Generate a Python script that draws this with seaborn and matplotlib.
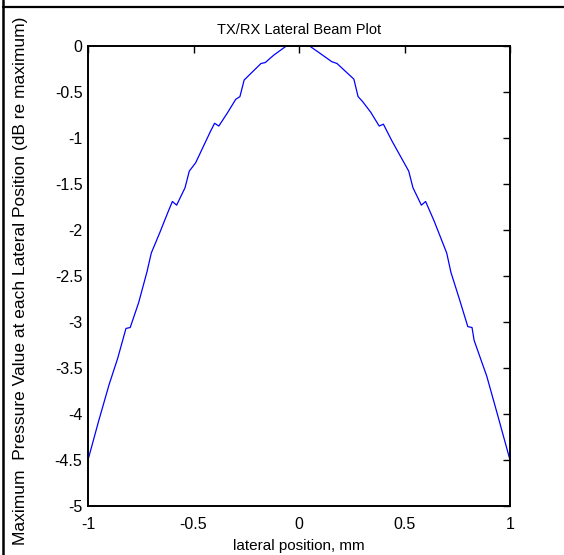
import matplotlib
matplotlib.use("Agg")
import matplotlib.pyplot as plt
import matplotlib.lines as mlines
import seaborn as sns
import pandas as pd

# Lateral beam profile (dB re maximum) across lateral position in mm
lateral_mm = [-1.00, -0.95, -0.90, -0.86, -0.82, -0.80, -0.76, -0.72, -0.70,
              -0.66, -0.62, -0.60, -0.58, -0.54, -0.52, -0.49, -0.42, -0.40,
              -0.38, -0.34, -0.30, -0.28, -0.26, -0.18, -0.16, -0.12, -0.06,
              0.00, 0.05, 0.10, 0.155, 0.18, 0.26, 0.28, 0.30, 0.34, 0.38,
              0.40, 0.44, 0.52, 0.54, 0.58, 0.60, 0.64, 0.70, 0.72, 0.76,
              0.80, 0.82, 0.83, 0.89, 0.94, 1.00]
pressure_db = [-4.50, -4.08, -3.68, -3.40, -3.07, -3.06, -2.79, -2.45, -2.25,
               -2.03, -1.80, -1.69, -1.73, -1.54, -1.36, -1.27, -0.93, -0.84,
               -0.87, -0.73, -0.58, -0.55, -0.37, -0.19, -0.18, -0.10, 0.00,
               0.00, 0.00, -0.08, -0.17, -0.19, -0.36, -0.55, -0.60, -0.72, -0.87,
               -0.85, -1.03, -1.36, -1.54, -1.73, -1.69, -1.90, -2.25, -2.46, -2.75,
               -3.05, -3.06, -3.20, -3.59, -4.00, -4.50]

x_ticks = [-1, -0.5, 0, 0.5, 1]
x_tick_labels = ["-1", "-0.5", "0", "0.5", "1"]
y_ticks = [0, -0.5, -1, -1.5, -2, -2.5, -3, -3.5, -4, -4.5, -5]
y_tick_labels = ["0", "-0.5", "-1", "-1.5", "-2", "-2.5", "-3", "-3.5", "-4", "-4.5", "-5"]

title_text = "TX/RX Lateral Beam Plot"
xlabel_text = "lateral position, mm"
ylabel_text = "Maximum  Pressure Value at each Lateral Position (dB re maximum)"

sns.set_style("white")
plt.rcParams["font.family"] = ["Liberation Sans", "DejaVu Sans"]

df = pd.DataFrame({"x": lateral_mm, "y": pressure_db})

fig = plt.figure(figsize=(5.64, 5.55), dpi=100)
ax = fig.add_axes([88 / 564, 1 - 506 / 555, 422 / 564, 460 / 555])

sns.lineplot(data=df, x="x", y="y", ax=ax, color="#0000ff",
             linewidth=0.9, estimator=None, sort=False)

ax.set_xlim(-1, 1)
ax.set_ylim(-5, 0)
ax.set_xticks(x_ticks)
ax.set_xticklabels(x_tick_labels)
ax.set_yticks(y_ticks)
ax.set_yticklabels(y_tick_labels)
ax.tick_params(direction="in", length=5, width=1, color="black",
               top=True, right=True, labelsize=11.5, labelcolor="black")
ax.tick_params(axis="x", pad=8)
ax.tick_params(axis="y", pad=4)
for s in ax.spines.values():
    s.set_color("black")
    s.set_linewidth(1.4)
    s.set_visible(True)

ax.set_xlabel("")
ax.set_ylabel("")
ax.set_title(title_text, fontsize=10.5, pad=9, color="black")
fig.text(299 / 564, 1 - 546 / 555, xlabel_text, ha="center", va="center",
         fontsize=11, color="black")
fig.text(21 / 564, 1 - 281 / 555, ylabel_text, ha="center", va="center",
         rotation=90, fontsize=12.5, color="black")

# page frame lines around the figure
fig.add_artist(mlines.Line2D([3 / 564, 3 / 564], [0, 1], transform=fig.transFigure,
                             color="black", linewidth=1.8))
fig.add_artist(mlines.Line2D([3 / 564, 1], [1 - 7 / 555, 1 - 7 / 555],
                             transform=fig.transFigure, color="black", linewidth=1.6))

fig.savefig("out.png", dpi=100)
